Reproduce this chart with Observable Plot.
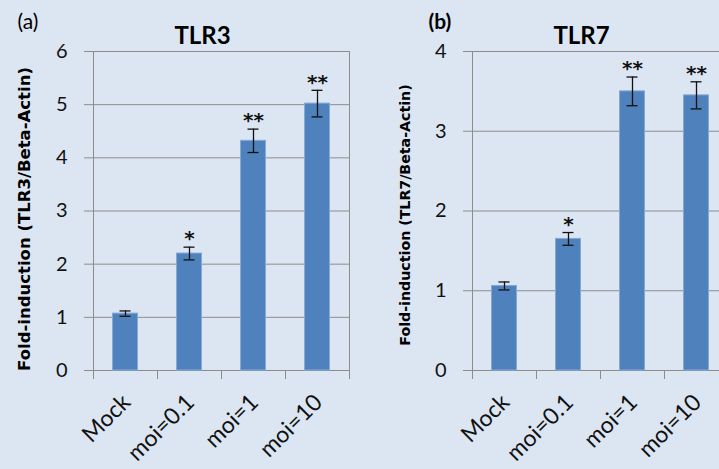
<!DOCTYPE html>
<html>
<head>
<meta charset="utf-8">
<script src="https://cdn.jsdelivr.net/npm/d3@7"></script>
<script src="https://cdn.jsdelivr.net/npm/@observablehq/plot@0.6"></script>
<style>
  html, body { margin: 0; padding: 0; }
  body { width: 719px; height: 469px; overflow: hidden; background: #dce6f2; position: relative; font-family: Lato, "Open Sans", sans-serif; }
  .panel { position: absolute; top: 0; }
  .panel svg { max-width: none !important; }
</style>
</head>
<body>
<div id="a" class="panel" style="left:0px; width:360px"></div>
<div id="b" class="panel" style="left:360px; width:368px"></div>
<script>
const categories = ["Mock", "moi=0.1", "moi=1", "moi=10"];
const tlr3Values = [1.07, 2.20, 4.32, 5.02];
const tlr3Errors = [0.05, 0.12, 0.22, 0.25];
const tlr7Values = [1.06, 1.65, 3.50, 3.45];
const tlr7Errors = [0.05, 0.08, 0.18, 0.17];
const significance = ["", "*", "**", "**"];
const tlr3Ticks = [0, 1, 2, 3, 4, 5, 6];
const tlr7Ticks = [0, 1, 2, 3, 4];

const BAR = "#4f81bd";
const GRID = "#8c8c8c";

function panel({letter, letterWeight, title, ylabel, values, errors, ticks, width, marginLeft, marginRight, ylabelSize, ylabelDx, ylabelDy, titleDx, letterDx}) {
  const rows = categories.map((c, i) => ({cat: c, v: values[i], e: errors[i], sig: significance[i]}));
  const step = 64;
  const top = ticks[ticks.length - 1];
  return Plot.plot({
    width, height: 469,
    marginLeft, marginRight, marginTop: 51, marginBottom: 99,
    style: {background: "transparent", fontFamily: "Lato, 'Open Sans', sans-serif", color: "#111", overflow: "visible"},
    x: {domain: categories, paddingInner: 0.6, paddingOuter: 0.3, axis: null},
    y: {domain: [0, top], ticks, tickSize: 0, tickPadding: 26, label: null, tickFormat: d3.format("d")},
    marks: [
      Plot.ruleY(ticks, {stroke: GRID, strokeWidth: 1, insetLeft: -9}),
      Plot.ruleX(categories, {x: d => d, dx: -step / 2, y1: 0, y2: top, stroke: GRID, strokeWidth: 1, filter: (d, i) => i === 0}),
      Plot.ruleX(categories, {x: d => d, dx: step / 2, y1: 0, y2: top, stroke: GRID, strokeWidth: 1, filter: (d, i) => i === categories.length - 1}),
      Plot.ruleX(categories, {x: d => d, dx: -step / 2, y1: 0, y2: 0, insetBottom: -9, stroke: GRID, strokeWidth: 1}),
      Plot.ruleX(categories, {x: d => d, dx: step / 2, y1: 0, y2: 0, insetBottom: -9, stroke: GRID, strokeWidth: 1, filter: (d, i) => i === categories.length - 1}),
      Plot.barY(rows, {x: "cat", y: "v", fill: BAR, stroke: "#86a8d6", strokeWidth: 1, insetLeft: 0.5, insetRight: 0.5}),
      Plot.ruleX(rows, {x: "cat", y1: d => d.v - d.e, y2: d => d.v + d.e, stroke: "#111", strokeWidth: 1.3}),
      Plot.tickY(rows, {x: "cat", y: d => d.v - d.e, stroke: "#111", strokeWidth: 1.3, inset: 7.5}),
      Plot.tickY(rows, {x: "cat", y: d => d.v + d.e, stroke: "#111", strokeWidth: 1.3, inset: 7.5}),
      Plot.text(rows, {x: "cat", y: d => d.v + d.e, text: "sig", dy: -16, fontSize: 20, fontWeight: "bold", lineAnchor: "top", fontFamily: "DejaVu Sans", fill: "#111"}),
      // category labels
      Plot.text(categories, {x: d => d, frameAnchor: "bottom", text: d => d, rotate: -45, textAnchor: "end", lineAnchor: "middle", dx: 1, dy: 28, fontSize: 23, fill: "#111"}),
      Plot.text([title], {frameAnchor: "top", text: d => d, dx: titleDx, dy: -8, lineAnchor: "bottom", fontSize: 24, fontWeight: "bold", fill: "#000"}),
      Plot.text([letter], {frameAnchor: "top-left", text: d => d, dx: letterDx, dy: -29, lineAnchor: "middle", textAnchor: "start", fontSize: 21, fontWeight: letterWeight, fill: "#000"}),
      Plot.text([ylabel], {frameAnchor: "left", text: d => d, rotate: -90, textAnchor: "middle", lineAnchor: "middle", dx: ylabelDx, dy: ylabelDy, fontSize: ylabelSize, fontWeight: "bold", fontFamily: "DejaVu Sans", fill: "#000"})
    ]
  });
}

const left = panel({
  letter: "(a)", letterWeight: "normal", title: "TLR3", ylabel: "Fold-induction (TLR3/Beta-Actin)",
  values: tlr3Values, errors: tlr3Errors, ticks: tlr3Ticks,
  width: 360, marginLeft: 93, marginRight: 11, ylabelSize: 16.5, ylabelDx: -69, ylabelDy: 8, titleDx: -19, letterDx: -76
});
const right = panel({
  letter: "(b)", letterWeight: "bold", title: "TLR7", ylabel: "Fold-induction (TLR7/Beta-Actin)",
  values: tlr7Values, errors: tlr7Errors, ticks: tlr7Ticks,
  width: 368, marginLeft: 112, marginRight: 0, ylabelSize: 14.2, ylabelDx: -67, ylabelDy: 4, titleDx: -19, letterDx: -44
});
for (const svg of [left, right]) {
  svg.querySelectorAll("[aria-label='y-axis tick label']").forEach(t => t.setAttribute("font-size", 20));
}
document.getElementById("a").appendChild(left);
document.getElementById("b").appendChild(right);
</script>
</body>
</html>
